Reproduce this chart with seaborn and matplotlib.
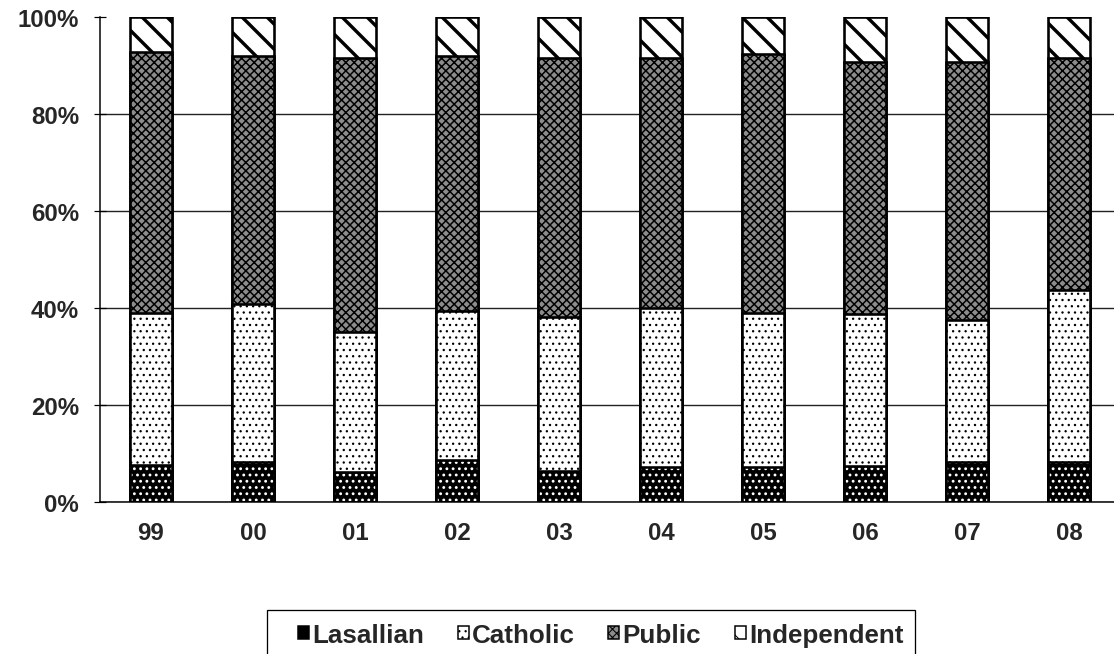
import numpy as np
import pandas as pd
import matplotlib
matplotlib.use("Agg")
import matplotlib.pyplot as plt
import matplotlib.patches as mpatches
import seaborn as sns

# ---- data (percent shares) ----
years = ["99", "00", "01", "02", "03", "04", "05", "06", "07", "08"]
lasallian = [7.6, 8.2, 6.2, 8.6, 6.4, 7.2, 7.3, 7.5, 8.3, 8.2]
catholic = [31.4, 32.6, 28.9, 30.8, 31.8, 32.8, 31.6, 31.2, 29.2, 35.5]
public = [53.8, 51.2, 56.4, 52.6, 53.3, 51.5, 53.5, 52.0, 53.3, 47.8]
independent = [7.2, 8.0, 8.5, 8.0, 8.5, 8.5, 7.6, 9.3, 9.2, 8.5]
series_names = ["Lasallian", "Catholic", "Public", "Independent"]
ytick_values = [0, 20, 40, 60, 80, 100]
ytick_labels = ["0%", "20%", "40%", "60%", "80%", "100%"]

DPI = 75
W, H = 1114, 655
def px(v):  # pixels -> points
    return v * 72.0 / DPI

sns.set_style("white")
plt.rcParams["font.family"] = ["Liberation Sans", "DejaVu Sans"]
plt.rcParams["font.weight"] = "bold"

df = pd.DataFrame({"year": years, "Lasallian": lasallian, "Catholic": catholic,
                   "Public": public, "Independent": independent})
tot = df[series_names].sum(axis=1)
for s in series_names:
    df[s] = df[s] / tot * 100
df["cum_L"] = df["Lasallian"]
df["cum_C"] = df["cum_L"] + df["Catholic"]
df["cum_P"] = df["cum_C"] + df["Public"]
df["cum_I"] = df["cum_P"] + df["Independent"]

fig = plt.figure(figsize=(W / DPI, H / DPI), dpi=DPI)
left, right, top, bottom = 100, 1120, 18, 503
ax = fig.add_axes([left / W, 1 - bottom / H, (right - left) / W, (bottom - top) / H])

bw = 0.41
elw = px(2.6)
common = dict(data=df, x="year", order=years, width=bw, saturation=1, errorbar=None, ax=ax)

styles = {
    "Independent": dict(face="white", edge="black", hatch="\\", hlw=3.4),
    "Public": dict(face="#8c8c8c", edge="black", hatch="xxx", hlw=1.5),
    "Catholic": dict(face="white", edge="black", hatch="..", hlw=1.1),
    "Lasallian": dict(face="black", edge="white", hatch="..", hlw=1.6),
}

def draw(col, name, lw):
    st = styles[name]
    n0 = len(ax.patches)
    with plt.rc_context({"hatch.linewidth": px(st["hlw"])}):
        sns.barplot(y=col, color=st["face"], edgecolor=st["edge"], hatch=st["hatch"],
                    linewidth=lw, **common)
    for p in ax.patches[n0:]:
        if hasattr(p, "set_hatch_linewidth"):
            p.set_hatch_linewidth(px(st["hlw"]))

# stacked, drawn back to front with cumulative heights
draw("cum_I", "Independent", elw)
draw("cum_P", "Public", elw)
draw("cum_C", "Catholic", elw)
draw("cum_L", "Lasallian", 0)
sns.barplot(y="cum_L", color="black", fill=False, linewidth=elw, **common)

ax.set_xlim(-0.5, 9.5)
ax.set_ylim(0, 100)
ax.set_xlabel("")
ax.set_ylabel("")

ax.set_yticks(ytick_values)
ax.set_yticklabels(ytick_labels)
ax.yaxis.grid(True, color="#222222", linewidth=px(1.4))
ax.yaxis.get_gridlines()[-1].set_visible(False)
ax.set_axisbelow(True)

ax.set_xticks(range(len(years)))
ax.set_xticklabels(years)
ax.set_xticks(np.arange(len(years)) + 0.5, minor=True)

for sp in ["top", "right"]:
    ax.spines[sp].set_visible(False)
for sp in ["left", "bottom"]:
    ax.spines[sp].set_color("black")
    ax.spines[sp].set_linewidth(px(1.5))

ax.tick_params(axis="y", which="major", direction="inout", length=px(12), width=px(1.2),
               color="black", pad=px(15), labelsize=px(24))
ax.tick_params(axis="x", which="major", length=0, pad=px(19), labelsize=px(24))
ax.tick_params(axis="x", which="minor", direction="out", length=px(9), width=px(1.2), color="black")
ax.tick_params(left=True, bottom=True)
for lab in ax.get_xticklabels() + ax.get_yticklabels():
    lab.set_fontweight("bold")

# legend
handles = []
for name in series_names:
    st = styles[name]
    h = mpatches.Patch(facecolor=st["face"], edgecolor="black",
                       hatch=st["hatch"] if name != "Lasallian" else None,
                       linewidth=px(1.5))
    handles.append(h)
leg = fig.legend(handles, series_names, loc="center left",
                 bbox_to_anchor=(298 / W, 1 - 636 / H),
                 ncol=4, frameon=False,
                 prop={"size": px(26), "weight": "bold"},
                 handlelength=0.42, handleheight=0.42, handletextpad=0.12,
                 borderpad=0, borderaxespad=0, columnspacing=1.3)
frame = mpatches.Rectangle((267 / W, 1 - 665 / H), (915 - 267) / W, (665 - 611) / H,
                           transform=fig.transFigure, fill=False, edgecolor="black",
                           linewidth=px(1.3))
fig.add_artist(frame)

fig.savefig("out.png", dpi=DPI)
